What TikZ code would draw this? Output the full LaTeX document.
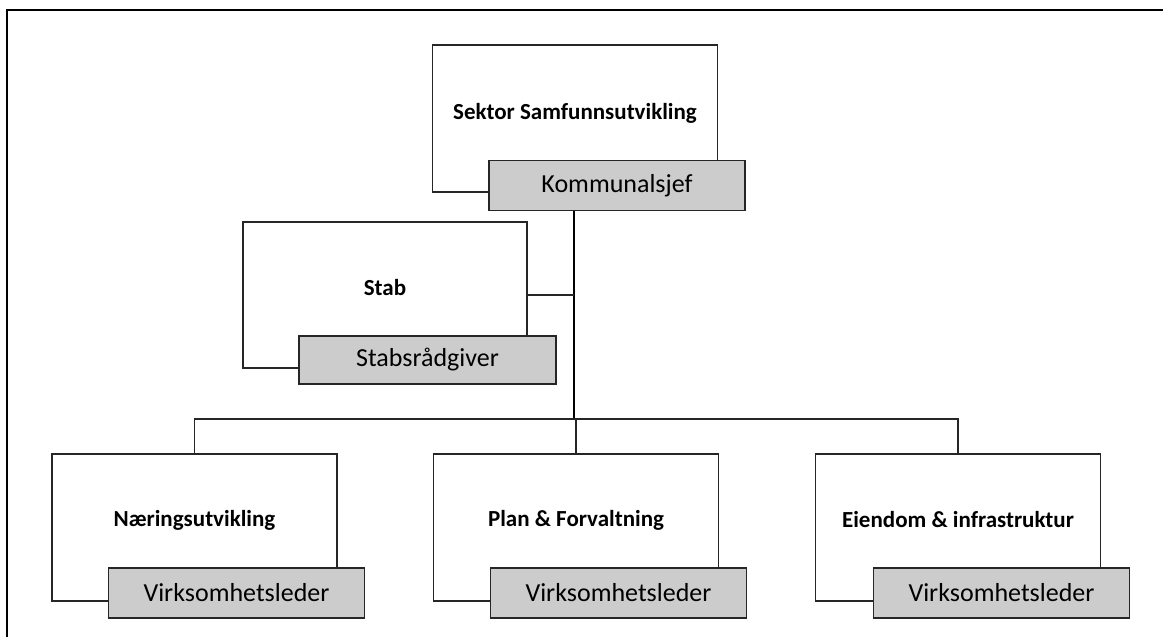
\documentclass[tikz,border=0pt]{standalone}
\usepackage{fontspec}
\setmainfont{Carlito}
\begin{document}
\begin{tikzpicture}[x=1pt,y=-1pt,
  unitbox/.style={draw=black!85, line width=1.3pt, fill=white, rectangle, inner sep=0pt, minimum width=285pt, minimum height=147pt},
  rolebox/.style={draw=black!85, line width=1.3pt, fill=black!20, rectangle, inner sep=0pt, minimum width=256pt, minimum height=50pt, font=\fontsize{26}{29}\selectfont},
  unitlbl/.style={font=\fontsize{23}{27}\selectfont\bfseries, inner sep=0pt},
  conn/.style={line width=1.3pt, draw=black!85},
  trunkline/.style={line width=2.2pt, draw=black}
]
\useasboundingbox (0,0) rectangle (1163,637);
\draw[line width=2.4pt] (7,640) -- (7,10) -- (1166,10);

% units
\node[unitbox] (sek) at (575,118.5) {};
\node[unitlbl] (sekl) at (575,113) {Sektor Samfunnsutvikling};
\node[rolebox] (kom) at (617,185.5) {Kommunalsjef};

\node[unitbox, minimum width=284pt, minimum height=146pt] (stab) at (385,295) {};
\node[unitlbl] (stabl) at (385,288) {Stab};
\node[rolebox, minimum width=257pt, minimum height=48pt] (stabr) at (427.5,360) {Stabsrådgiver};

\node[unitbox] (nar) at (194.5,527.5) {};
\node[unitlbl] (narl) at (194.5,520) {Næringsutvikling};
\node[rolebox] (narr) at (236.5,593) {Virksomhetsleder};

\node[unitbox] (plan) at (576,527.5) {};
\node[unitlbl] (planl) at (576,520) {Plan \& Forvaltning};
\node[rolebox] (planr) at (618.5,593) {Virksomhetsleder};

\node[unitbox] (eie) at (958,527.5) {};
\node[unitlbl] (eiel) at (958,520) {Eiendom \& infrastruktur};
\node[rolebox] (eier) at (1001.5,593) {Virksomhetsleder};

% connectors
\coordinate (trunk) at (574,419);
\draw[trunkline] (kom.south -| trunk) -- (trunk);
\draw[conn] (stab.east) -- (stab.east -| trunk);
\draw[conn] (nar.north) |- (trunk) -| (eie.north);
\draw[conn] (plan.north) -- (plan.north |- trunk);
\end{tikzpicture}
\end{document}
